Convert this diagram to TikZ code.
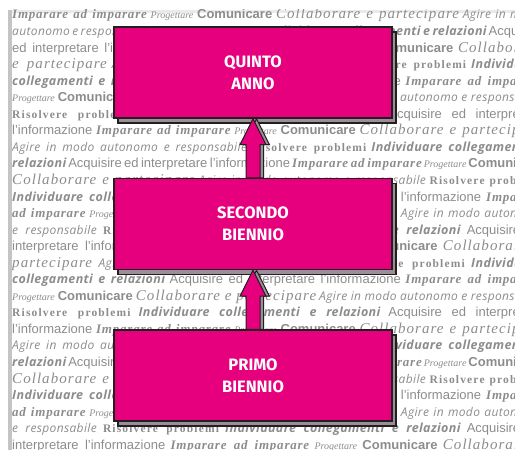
\documentclass[tikz,border=0pt]{standalone}
\usepackage{fontspec}
\setmainfont{Liberation Serif}
\newfontfamily\boxfont{Fira Sans}
\newfontfamily\wallimp{Liberation Serif}[LetterSpace=6]
\newfontfamily\wallprog{Liberation Serif}
\newfontfamily\wallcom{Liberation Sans}
\newfontfamily\wallcoll{Liberation Serif}[LetterSpace=7]
\newfontfamily\wallagi{Open Sans}[LetterSpace=3]
\newfontfamily\wallris{Liberation Serif}[LetterSpace=10]
\newfontfamily\wallind{Open Sans}[LetterSpace=3]
\newfontfamily\wallacq{Liberation Sans}
\usepackage{tikz}
\usetikzlibrary{calc,shadows}

\definecolor{rubine}{HTML}{E6007E}
\definecolor{boxline}{HTML}{231F20}
\definecolor{shadowmauve}{HTML}{9C8E99}
\definecolor{walltext}{HTML}{8C8C8C}
\definecolor{wallbar}{HTML}{C4C4C4}
\definecolor{wallband}{HTML}{EAEAEA}

% one round of the key competences, repeated as wallpaper
\newcommand{\wallcycle}{%
{\wallimp\bfseries\itshape\fontsize{13}{16}\selectfont Imparare ad imparare}
{\wallprog\itshape\fontsize{10}{16}\selectfont Progettare}
{\wallcom\bfseries\fontsize{13}{16}\selectfont Comunicare}
{\wallcoll\itshape\fontsize{15}{16}\selectfont Collaborare e partecipare}
{\wallagi\itshape\fontsize{12}{16}\selectfont Agire in modo autonomo e responsabile}
{\wallris\bfseries\fontsize{11.5}{16}\selectfont Risolvere problemi}
{\wallind\bfseries\itshape\fontsize{12.5}{16}\selectfont Individuare collegamenti e relazioni}
{\wallacq\fontsize{13}{16}\selectfont Acquisire ed interpretare l’informazione} }

% block arrow from the top of #1 up to the bottom of #2
\newcommand{\blockarrow}[2]{%
\draw[liftarrow] ($(#1.north)+(-7,0)$) -- ($(#2.south)+(-7,-26)$) -- ($(#2.south)+(-13,-26)$)
  -- (#2.south) -- ($(#2.south)+(13,-26)$) -- ($(#2.south)+(7,-26)$) -- ($(#1.north)+(7,0)$) -- cycle;}

\begin{document}
\begin{tikzpicture}[
    x=1pt, y=1pt,
    box/.style={rectangle, draw=boxline, line width=1.3pt, fill=rubine, text=white,
      minimum width=278pt, minimum height=91pt, align=center,
      font=\boxfont\bfseries\fontsize{16.5}{22}\selectfont,
      general shadow={shadow xshift=4pt, shadow yshift=-5pt, fill=shadowmauve, draw=boxline, line width=1.3pt}},
    liftarrow/.style={draw=boxline, line width=1pt, fill=rubine,
      general shadow={shadow xshift=3.5pt, shadow yshift=0pt, fill=shadowmauve, draw=boxline, line width=1pt}},
    wall/.style={inner sep=0pt, text=walltext}
]
\useasboundingbox (0,0) rectangle (515,450);

% wallpaper
\fill[wallband] (8,436.5) rectangle (515,440);
\begin{scope}
\clip (11.5,0) rectangle (515,440);
\node[wall, anchor=base west] (wall) at (12,431) {\parbox[t]{530pt}{%
  \fontsize{12}{16.55}\selectfont\lineskiplimit=-50pt\lineskip=0pt
  \hyphenpenalty=10000\exhyphenpenalty=10000\parindent=0pt
  \foreach \k in {1,...,12}{\wallcycle}}};
\end{scope}
\fill[wallbar] (8,0) rectangle (11.5,440);

\node[box] (quinto) at (253,377.5) {QUINTO\\ANNO};
\node[box] (secondo) at (253,226) {SECONDO\\BIENNIO};
\node[box] (primo) at (253,74.5) {PRIMO\\BIENNIO};

\blockarrow{secondo}{quinto}
\blockarrow{primo}{secondo}

\end{tikzpicture}
\end{document}
